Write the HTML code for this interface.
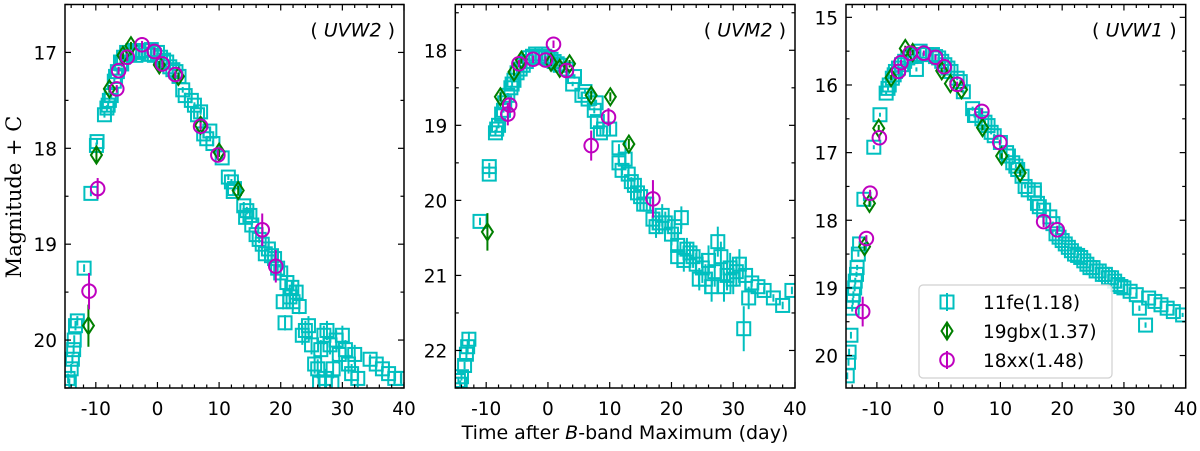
<!DOCTYPE html>
<html><head><meta charset="utf-8"><style>
body{margin:0;background:#fff;}
svg{display:block;font-family:"DejaVu Sans","Liberation Sans",sans-serif;}
</style></head><body>
<svg id="chart" width="1200" height="451" viewBox="0 0 1200 451"></svg>
<script>
// ---- data: [time, magnitude, error] ----
const fe_w2 = [[-14.5,20.4,.05],[-14.3,20.45,.05],[-14,20.3,.05],[-13.8,20.2,.05],[-13.6,20.1,.05],[-13.5,20.0,.05],[-13.3,19.85,.05],[-13,19.8,.05],[-11.9,19.25,.04],[-10.8,18.47,.03],[-9.9,17.97,.03],[-9.8,17.93,.03],[-8.6,17.65,.03],[-8.2,17.58,.03],[-8,17.55,.03],[-7.8,17.5,.03],[-7.5,17.45,.03],[-7,17.3,.03],[-6.8,17.25,.03],[-6.5,17.2,.03],[-6,17.1,.03],[-5.8,17.12,.03],[-5.5,17.05,.03],[-5,17.0,.03],[-4.5,17.02,.03],[-4,16.98,.03],[-3.5,17.03,.03],[-3,17.0,.03],[-2,16.98,.03],[-1.5,17.02,.03],[-1,16.97,.03],[-0.5,17.03,.03],[0,17.0,.03],[0.5,17.05,.03],[1,17.08,.03],[1.5,17.1,.03],[2,17.15,.03],[2.5,17.18,.03],[3,17.2,.03],[3.5,17.25,.03],[4.1,17.39,.03],[4.5,17.45,.03],[5.5,17.5,.03],[6,17.55,.03],[6.5,17.65,.03],[7,17.62,.03],[7.5,17.85,.03],[8,17.9,.03],[8.5,17.82,.03],[9,17.95,.03],[10.5,18.1,.03],[11.5,18.3,.03],[12,18.35,.03],[12.3,18.45,.03],[12.5,18.42,.03],[14,18.6,.04],[14.3,18.72,.04],[14.5,18.65,.04],[15,18.7,.04],[15.3,18.8,.04],[16,18.9,.04],[16.5,18.95,.04],[17,19.0,.05],[17.5,19.1,.05],[18,19.05,.05],[18.5,19.12,.05],[19,19.15,.05],[19.5,19.25,.05],[20,19.3,.06],[21,19.4,.06],[21.5,19.55,.06],[21.8,19.45,.06],[22,19.6,.08],[22.5,19.5,.08],[23,19.65,.08],[20.4,19.6,.08],[20.7,19.82,.08],[23.5,19.95,.1],[24,19.9,.1],[24.5,19.85,.1],[25,20.05,.1],[25.5,20.25,.1],[26,20.3,.1],[26.3,20.45,.1],[26.5,20.1,.1],[27,19.95,.1],[27.2,20.4,.1],[27.5,19.9,.1],[28,20.05,.1],[28.3,20.45,.1],[28.5,20.3,.1],[29,20.0,.1],[29.5,20.15,.1],[30,19.95,.1],[30.5,20.1,.1],[31,20.25,.1],[31.5,20.35,.1],[32,20.15,.1],[32.5,20.4,.1],[34.5,20.2,.05],[35.5,20.25,.05],[36.5,20.3,.05],[37.5,20.35,.05],[38.5,20.4,.05],[39.5,20.4,.05]];
const gbx_w2 = [[-11.2,19.85,.22],[-9.9,18.07,.08],[-7.8,17.38,.04],[-5.6,17.03,.04],[-4.3,16.93,.04],[0.3,17.13,.04],[3.4,17.25,.04],[7.0,17.76,.06],[10.0,18.04,.05],[13.1,18.44,.05]];
const xx_w2 = [[-11.1,19.49,.19],[-9.7,18.42,.11],[-6.6,17.38,.04],[-6.3,17.19,.04],[-4.9,17.05,.04],[-2.5,16.92,.04],[-0.5,16.99,.04],[0.8,17.12,.04],[2.9,17.23,.04],[7.0,17.77,.04],[9.8,18.07,.05],[17.0,18.85,.17],[19.2,19.23,.17]];

const fe_m2 = [[-14.5,22.4,.05],[-14.2,22.45,.05],[-14,22.35,.05],[-13.5,22.2,.05],[-13.2,22.05,.1],[-13,21.95,.1],[-12.8,21.85,.1],[-11.0,20.28,.05],[-9.5,19.55,.05],[-9.5,19.65,.05],[-8.5,19.1,.04],[-8.3,19.05,.04],[-8,19.0,.04],[-7.5,18.85,.03],[-7.2,18.8,.03],[-7,18.7,.03],[-6.5,18.6,.03],[-6,18.5,.03],[-5.8,18.45,.03],[-5.5,18.4,.03],[-5,18.3,.03],[-4.5,18.25,.03],[-4,18.2,.03],[-3.5,18.15,.03],[-3,18.1,.03],[-2.5,18.08,.03],[-2,18.05,.03],[-1.5,18.1,.03],[-1,18.05,.03],[-0.5,18.08,.03],[0,18.1,.03],[0.5,18.12,.03],[1,18.15,.03],[1.5,18.18,.03],[2,18.2,.03],[3,18.25,.03],[4,18.45,.03],[4.3,18.35,.03],[5.5,18.6,.03],[6,18.55,.03],[6.5,18.65,.04],[7.5,18.8,.04],[7.8,18.7,.04],[8,18.95,.05],[8.5,19.1,.05],[9,19.05,.05],[10,19.05,.05],[11.5,19.3,.05],[11.5,19.5,.05],[12,19.6,.06],[12.5,19.45,.06],[13,19.65,.06],[13.5,19.75,.06],[14,19.8,.08],[14.5,19.9,.1],[15,19.95,.1],[15.5,20.05,.1],[16,20.05,.1],[17,20.25,.15],[17.5,20.35,.15],[18,20.3,.15],[18.5,20.2,.15],[19,20.3,.15],[20,20.45,.15],[20.5,20.35,.15],[21,20.6,.15],[21,20.75,.15],[22,20.8,.15],[21.6,20.23,.15],[22.5,20.65,.15],[23,20.7,.15],[23.5,20.75,.15],[24,20.85,.15],[24.5,21.05,.15],[25,20.9,.2],[25.5,21.05,.2],[26,20.8,.2],[26.5,21.15,.2],[27,20.95,.2],[27.5,20.55,.2],[28,20.75,.2],[28.5,21.15,.2],[29,21.0,.2],[29.5,20.9,.2],[30,21.05,.2],[30.5,20.95,.2],[31,20.85,.2],[32,21.0,.2],[32.5,21.3,.15],[31.7,21.71,.3],[33,21.1,.05],[34,21.15,.05],[35,21.2,.05],[36.5,21.3,.05],[38,21.4,.05],[39.5,21.2,.05]];
const gbx_m2 = [[-9.8,20.42,.25],[-7.7,18.62,.06],[-5.5,18.29,.05],[-4.3,18.13,.05],[0.5,18.16,.05],[1.9,18.24,.05],[3.5,18.18,.05],[7.0,18.6,.06],[10.1,18.62,.06],[13.1,19.25,.07]];
const xx_m2 = [[-6.5,18.85,.15],[-6.2,18.73,.08],[-4.7,18.18,.05],[-2.4,18.12,.05],[-0.4,18.13,.05],[0.9,17.92,.05],[3.0,18.27,.08],[7.0,19.27,.2],[9.8,18.89,.12],[17.0,19.98,.25]];

const fe_w1 = [[-14.8,20.3,.05],[-14.6,20.1,.05],[-14.5,19.95,.05],[-14.2,19.7,.05],[-14,19.3,.05],[-13.9,19.2,.05],[-13.8,19.1,.05],[-13.6,19.0,.05],[-13.5,18.9,.05],[-13.3,18.8,.04],[-13.2,18.7,.04],[-13,18.5,.04],[-12.8,18.35,.04],[-12.1,17.69,.03],[-10.5,16.92,.03],[-9.5,16.44,.03],[-8.5,16.12,.03],[-8.2,16.05,.03],[-8,16.0,.03],[-7.5,15.9,.03],[-7.2,15.85,.03],[-7,15.8,.03],[-6.5,15.75,.03],[-6,15.7,.03],[-5.5,15.65,.03],[-5,15.6,.03],[-3.6,15.77,.03],[-4.5,15.58,.03],[-4,15.55,.03],[-3,15.5,.03],[-2.5,15.55,.03],[-2,15.55,.03],[-1,15.55,.03],[-0.5,15.58,.03],[0,15.6,.03],[0.5,15.65,.03],[1,15.7,.03],[1.5,15.75,.03],[2,15.8,.03],[3,15.9,.03],[3.5,15.95,.03],[4,16.1,.03],[5.5,16.35,.03],[5.8,16.45,.03],[6,16.45,.03],[7,16.5,.03],[7.5,16.55,.03],[8,16.6,.03],[8.5,16.7,.03],[9,16.75,.03],[10,16.85,.03],[11,17.0,.03],[11.3,17.05,.03],[12,17.15,.03],[12.5,17.2,.03],[12.8,17.25,.03],[13.5,17.35,.03],[14,17.5,.03],[14.5,17.55,.03],[15.5,17.6,.03],[15.5,17.55,.03],[16,17.75,.03],[16.3,17.8,.03],[17,17.85,.03],[18,17.95,.03],[18.5,18.05,.03],[19,18.2,.03],[19.5,18.25,.03],[20,18.3,.03],[20.5,18.35,.03],[21,18.4,.03],[21.5,18.45,.03],[22,18.5,.03],[22.5,18.52,.03],[23,18.55,.03],[23.5,18.6,.03],[24,18.65,.03],[24.5,18.7,.03],[25,18.7,.03],[25.5,18.75,.03],[26,18.75,.03],[26.5,18.8,.03],[27,18.8,.03],[27.5,18.85,.03],[28,18.85,.03],[28.5,18.9,.03],[29,18.95,.03],[29.5,18.98,.03],[30,19.0,.03],[31,19.05,.03],[32,19.1,.03],[32.5,19.3,.04],[33.5,19.55,.04],[34,19.15,.03],[35,19.2,.03],[36,19.25,.03],[37,19.3,.03],[38,19.35,.03],[39.5,19.4,.03]];
const gbx_w1 = [[-12.0,18.39,.06],[-11.2,17.75,.05],[-9.7,16.64,.05],[-7.7,15.89,.04],[-5.4,15.46,.04],[-4.2,15.52,.04],[0.5,15.79,.04],[1.9,15.98,.04],[3.7,16.07,.04],[7.1,16.63,.04],[10.2,17.05,.04],[13.2,17.3,.04]];
const xx_w1 = [[-12.3,19.35,.22],[-11.7,18.27,.05],[-11.1,17.6,.05],[-9.6,16.78,.05],[-6.5,15.8,.04],[-6.1,15.67,.04],[-4.6,15.53,.04],[-2.4,15.53,.04],[-0.5,15.59,.04],[0.9,15.73,.04],[3.0,15.99,.04],[7.0,16.39,.04],[9.9,16.85,.04],[17.0,18.02,.08],[19.2,18.14,.06]];

const xTicks = [-10,0,10,20,30,40];
const panelNames = ["UVW2","UVM2","UVW1"];
const yTicksW2 = [17,18,19,20];
const yTicksM2 = [18,19,20,21,22];
const yTicksW1 = [15,16,17,18,19,20];
const legendLabels = ["11fe(1.18)","19gbx(1.37)","18xx(1.48)"];

const NS="http://www.w3.org/2000/svg";
const svg=document.getElementById('chart');
const CY="#00bfbf", GR="#007f00", MG="#bf00bf";
function mk(tag,attrs,parent){const e=document.createElementNS(NS,tag);for(const k in attrs)e.setAttribute(k,attrs[k]);(parent||svg).appendChild(e);return e;}

function marker(g,type,x,y,color){
  let e;
  if(type==='sq') e=mk('rect',{x:x-6.5,y:y-6.5,width:13,height:13,fill:'none',stroke:color,'stroke-width':2},g);
  else if(type==='di') e=mk('polygon',{points:`${x},${y-8.5} ${x+5.5},${y} ${x},${y+8.5} ${x-5.5},${y}`,fill:'none',stroke:color,'stroke-width':2},g);
  else e=mk('circle',{cx:x,cy:y,r:6.8,fill:'none',stroke:color,'stroke-width':2},g);
  return e;
}

function panel(idx,L,R,T,B,ymin,ymax,yTicks,series){
  const sx=t=>L+(t+15)/55*(R-L);
  const sy=m=>T+(m-ymin)/(ymax-ymin)*(B-T);
  const g=mk('g',{});
  
  
  const cid='clip'+idx;
  const cp=mk('clipPath',{id:cid},g); mk('rect',{x:L,y:T,width:R-L,height:B-T},cp);
  const dg=mk('g',{'clip-path':`url(#${cid})`},g);
  series.forEach(s=>{
    const sg=mk('g',{},dg);
    
    
    s.data.forEach(d=>{
      const x=sx(d[0]),y=sy(d[1]);
      mk('line',{x1:x,x2:x,y1:sy(d[1]-d[2]),y2:sy(d[1]+d[2]),stroke:s.color,'stroke-width':2},sg);
      const m=marker(sg,s.type,x,y,s.color);
      
      
    });
  });
  for(let t=-14;t<=40;t+=2){
    const x=sx(t); const major=(t%10===0);
    const len=major?6:3.5;
    mk('line',{x1:x,x2:x,y1:B,y2:B-len,stroke:'#000','stroke-width':1.2},g);
    mk('line',{x1:x,x2:x,y1:T,y2:T+len,stroke:'#000','stroke-width':1.2},g);
  }
  xTicks.forEach(t=>{
    const tx=mk('text',{x:sx(t),y:B+27,'text-anchor':'middle','font-size':18.5},g);
    tx.textContent=t;
    
    
  });
  for(let m=Math.ceil(ymin*2)/2;m<=ymax;m+=0.5){
    const y=sy(m); const major=Math.abs(m-Math.round(m))<1e-6;
    const len=major?6:3.5;
    mk('line',{x1:L,x2:L+len,y1:y,y2:y,stroke:'#000','stroke-width':1.2},g);
    mk('line',{x1:R,x2:R-len,y1:y,y2:y,stroke:'#000','stroke-width':1.2},g);
  }
  yTicks.forEach(m=>{
    const tx=mk('text',{x:L-8,y:sy(m)+7,'text-anchor':'end','font-size':18.5},g);
    tx.textContent=m;
    
    
  });
  mk('rect',{x:L,y:T,width:R-L,height:B-T,fill:'none',stroke:'#000','stroke-width':1.5},g);
  const pl=mk('text',{x:R-9,y:T+32,'text-anchor':'end','font-size':19},g);
  pl.innerHTML='( <tspan font-style="italic">'+panelNames[idx]+'</tspan> )';
  
  
}
const mkS=(a,b,c)=>[{name:'11fe',data:a,type:'sq',color:CY},{name:'19gbx',data:b,type:'di',color:GR},{name:'18xx',data:c,type:'ci',color:MG}];
panel(0,65,404,4.5,388,16.5,20.5,yTicksW2,mkS(fe_w2,gbx_w2,xx_w2));
panel(1,455.3,795,4.5,388,17.39,22.5,yTicksM2,mkS(fe_m2,gbx_m2,xx_m2));
panel(2,846,1185.7,4.5,388,14.81,20.48,yTicksW1,mkS(fe_w1,gbx_w1,xx_w1));

const lg=mk('g',{});


mk('rect',{x:919,y:285,width:193,height:93,rx:4,fill:'#fff','fill-opacity':0.85,stroke:'#d0d0d0','stroke-width':1.2},lg);
const lgTypes=['sq','di','ci'], lgColors=[CY,GR,MG];
legendLabels.forEach((lab,i)=>{
  const y=302+i*29;
  const e=lg.appendChild(document.createElementNS(NS,'g'));
  
  
  mk('line',{x1:947,x2:947,y1:y-9,y2:y+9,stroke:lgColors[i],'stroke-width':2},e);
  marker(e,lgTypes[i],947,y,lgColors[i]);
  const t=mk('text',{x:983,y:y+7,'font-size':18.5},e);
  t.textContent=lab;
});

const yl=mk('text',{x:0,y:0,'font-size':21,'text-anchor':'middle','font-family':'"DejaVu Serif","Liberation Serif",serif',transform:'translate(21,197) rotate(-90)'});
yl.textContent='Magnitude + C';


const xl=mk('text',{x:625,y:439,'font-size':19,'text-anchor':'middle'});
xl.innerHTML='Time after <tspan font-style="italic">B</tspan>-band Maximum (day)';


</script>
</body></html>
